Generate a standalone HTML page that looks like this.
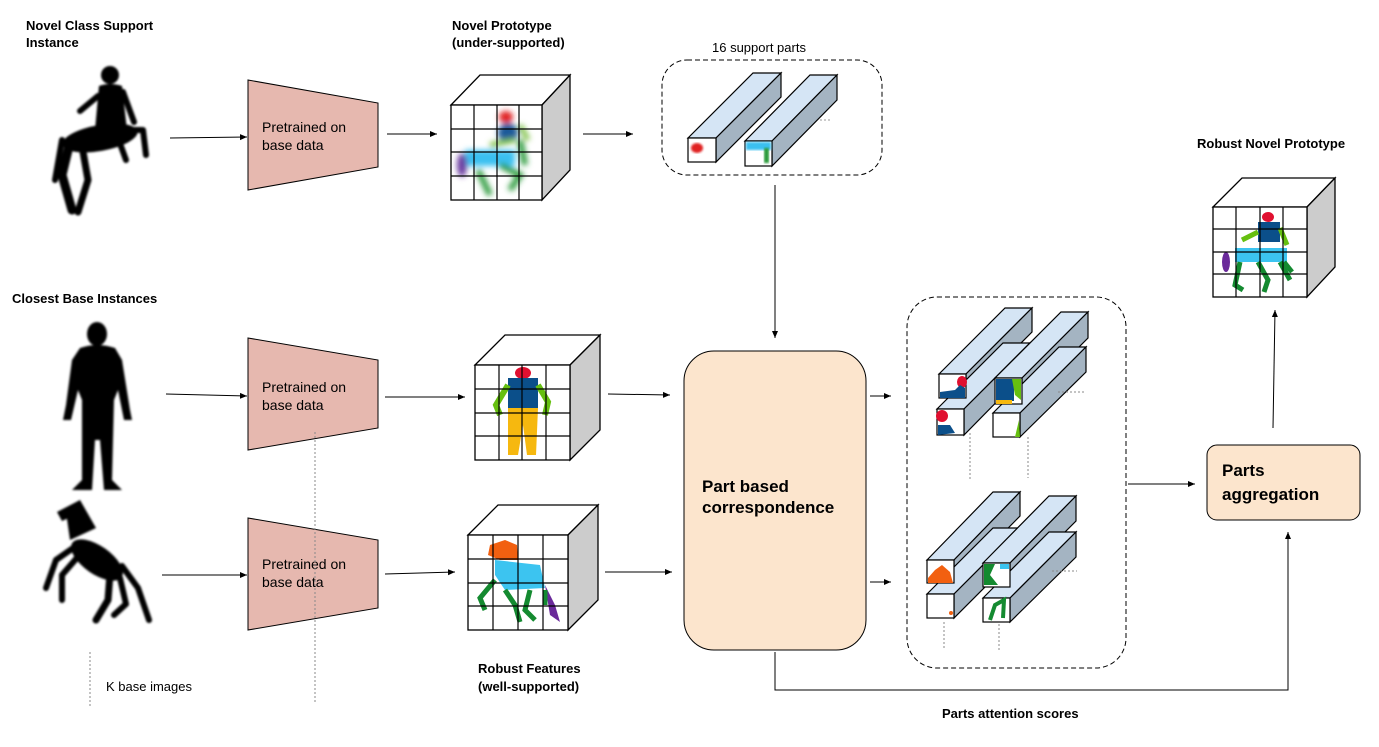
<!DOCTYPE html>
<html><head><meta charset="utf-8"><style>
html,body{margin:0;padding:0;background:#fff}
svg{display:block}
text{font-family:"Liberation Sans",Arial,sans-serif}
</style></head><body>
<svg width="1379" height="747" viewBox="0 0 1379 747" xmlns="http://www.w3.org/2000/svg">
<defs>
<marker id="ah" markerWidth="8" markerHeight="8" refX="7" refY="4" orient="auto" markerUnits="userSpaceOnUse">
<path d="M0,1 L7,4 L0,7 Z" fill="#000"/></marker>
<filter id="bl"><feGaussianBlur stdDeviation="3"/></filter>
<filter id="bl1"><feGaussianBlur stdDeviation="1"/></filter>
</defs>

<g font-weight="bold" font-size="13" fill="#000">
<text x="26" y="30">Novel Class Support</text>
<text x="26" y="47">Instance</text>
<text x="452" y="30">Novel Prototype</text>
<text x="452" y="47">(under-supported)</text>
<text x="12" y="303">Closest Base Instances</text>
<text x="1197" y="148">Robust Novel Prototype</text>
<text x="478" y="673">Robust  Features</text>
<text x="478" y="691">(well-supported)</text>
<text x="942" y="718">Parts attention scores</text>
</g>
<text x="712" y="52" font-size="13">16 support parts</text>
<text x="106" y="691" font-size="13">K base images</text>

<!-- silhouettes -->
<g fill="#000" stroke="#000" filter="url(#bl1)" stroke-linecap="round" stroke-linejoin="round">
<!-- centaur -->
<circle cx="110" cy="75" r="9" stroke="none"/>
<path d="M99,86 Q110,82 122,86 L127,130 L95,130 Z" stroke="none"/>
<path d="M98,96 L80,111" stroke-width="6" fill="none"/>
<path d="M123,92 L134,122" stroke-width="6" fill="none"/>
<ellipse cx="100" cy="138" rx="38" ry="13" transform="rotate(-10 100 138)" stroke="none"/>
<path d="M70,142 L62,175 L72,210" stroke-width="9" fill="none"/>
<path d="M82,146 L88,180 L78,212" stroke-width="7" fill="none"/>
<path d="M62,140 L55,180" stroke-width="6" fill="none"/>
<path d="M118,138 L126,160" stroke-width="6" fill="none"/>
<path d="M128,130 L143,130 L146,155" stroke-width="6" fill="none"/>
<!-- human -->
<ellipse cx="97" cy="334" rx="10" ry="12" stroke="none"/>
<path d="M80,348 Q97,342 115,348 L122,360 L130,410 L132,420 L124,420 L118,390 L114,400 L112,480 L122,490 L104,490 L100,440 L95,440 L92,490 L72,490 L82,480 L82,400 L78,390 L71,420 L63,420 L66,405 L72,360 Z" stroke="none"/>
<!-- horse -->
<ellipse cx="97" cy="560" rx="30" ry="14" transform="rotate(35 97 560)" stroke="none"/>
<path d="M70,540 L66,512 L80,500 L96,528 Z" stroke="none"/>
<path d="M57,512 L80,500 L84,511 L62,521 Z" stroke="none"/>
<path d="M76,546 L56,560 L46,588" stroke-width="6" fill="none"/>
<path d="M82,552 L62,575 L62,600" stroke-width="6" fill="none"/>
<path d="M110,574 L108,600 L96,620" stroke-width="7" fill="none"/>
<path d="M120,578 L126,604 L114,615" stroke-width="6" fill="none"/>
<path d="M122,566 L138,588 L149,620" stroke-width="6" fill="none"/>
</g>

<g fill="#e6b8af" stroke="#000" stroke-width="1">
<path d="M248,80 L378,103 L378,167 L248,190 Z"/>
<path d="M248,338 L378,360 L378,428 L248,450 Z"/>
<path d="M248,518 L378,540 L378,608 L248,630 Z"/>
</g>
<g font-size="14" fill="#000">
<text x="262" y="132">Pretrained on</text><text x="262" y="150">base data</text>
<text x="262" y="392">Pretrained on</text><text x="262" y="410">base data</text>
<text x="262" y="569">Pretrained on</text><text x="262" y="587">base data</text>
</g>

<g stroke="#000" stroke-width="1.3">
<path d="M451,105 L480,75 L570,75 L542,105 Z" fill="#fff"/>
<path d="M542,105 L570,75 L570,170 L542,200 Z" fill="#ccc"/>
<rect x="451" y="105" width="91" height="95" fill="#fff"/>
<path d="M475,365 L505,335 L600,335 L570,365 Z" fill="#fff"/>
<path d="M570,365 L600,335 L600,430 L570,460 Z" fill="#ccc"/>
<rect x="475" y="365" width="95" height="95" fill="#fff"/>
<path d="M468,535 L498,505 L598,505 L568,535 Z" fill="#fff"/>
<path d="M568,535 L598,505 L598,600 L568,630 Z" fill="#ccc"/>
<rect x="468" y="535" width="100" height="95" fill="#fff"/>
<path d="M1213,207 L1242,178 L1335,178 L1307,207 Z" fill="#fff"/>
<path d="M1307,207 L1335,178 L1335,267 L1307,297 Z" fill="#ccc"/>
<rect x="1213" y="207" width="94" height="90" fill="#fff"/>
</g>

<g filter="url(#bl)">
<ellipse cx="506" cy="117" rx="7" ry="6" fill="#e02020"/>
<ellipse cx="508" cy="133" rx="10" ry="10" fill="#1a5a9a"/>
<rect x="465" y="150" width="50" height="16" fill="#3ac0f0"/>
<ellipse cx="462" cy="165" rx="5" ry="12" fill="#6a3aa0"/>
<path d="M478,170 L490,195 M500,165 L520,175 L510,190 M520,140 L525,165" stroke="#2a9a3a" stroke-width="6" fill="none"/>
<path d="M490,145 L515,140 M520,125 L528,140" stroke="#7ac040" stroke-width="5" fill="none"/>
</g>
<g>
<ellipse cx="523" cy="373" rx="8" ry="6" fill="#e01030"/>
<rect x="508" y="378" width="30" height="30" fill="#0b4f8a"/>
<path d="M508,385 L496,405 L500,415 M538,385 L548,402 L545,415" stroke="#66c010" stroke-width="6" fill="none"/>
<path d="M508,408 L538,408 L536,455 L527,455 L523,425 L518,455 L508,455 Z" fill="#f6b80f"/>
</g>
<g>
<path d="M490,545 L505,540 L517,545 L518,560 L500,560 L488,555 Z" fill="#f26010"/>
<path d="M495,560 L540,565 L545,588 L505,590 L495,575 Z" fill="#3cc4f0"/>
<path d="M545,585 L555,605 L560,622 L550,615 Z" fill="#6a2a9a"/>
<path d="M495,580 L480,598 L485,610 M505,590 L515,605 L520,622 M530,590 L525,610 L535,620 M545,590 L545,605" stroke="#148a30" stroke-width="5" fill="none"/>
</g>
<g>
<ellipse cx="1268" cy="217" rx="6" ry="5" fill="#e01030"/>
<rect x="1258" y="222" width="22" height="20" fill="#0b4f8a"/>
<path d="M1258,232 L1242,240 M1280,228 L1287,245" stroke="#66c010" stroke-width="5" fill="none"/>
<rect x="1235" y="248" width="52" height="14" fill="#3cc4f0"/>
<ellipse cx="1226" cy="262" rx="4" ry="10" fill="#6a2a9a"/>
<path d="M1240,262 L1235,285 L1243,290 M1258,262 L1268,280 L1264,292 M1284,262 L1292,272 M1280,262 L1290,280" stroke="#148a30" stroke-width="5" fill="none"/>
</g>

<g stroke="#000" stroke-width="1.2" fill="none">
<path d="M451,129 H542 M451,152 H542 M451,176 H542 M474,105 V200 M497,105 V200 M519,105 V200"/>
<path d="M475,389 H570 M475,413 H570 M475,436 H570 M499,365 V460 M522,365 V460 M546,365 V460"/>
<path d="M468,559 H568 M468,583 H568 M468,606 H568 M493,535 V630 M518,535 V630 M543,535 V630"/>
<path d="M1213,229 H1307 M1213,252 H1307 M1213,274 H1307 M1236,207 V297 M1260,207 V297 M1283,207 V297"/>
</g>

<g fill="none" stroke="#000" stroke-dasharray="5,3" stroke-width="1">
<rect x="662" y="60" width="220" height="115" rx="25"/>
<rect x="907" y="297" width="219" height="371" rx="30"/>
</g>

<g stroke="#000" stroke-width="1.2">
<path d="M688,138 L753,73 L781,73 L716,138 Z" fill="#d5e5f5"/>
<path d="M716,138 L781,73 L781,97 L716,162 Z" fill="#a4b4c2"/>
<rect x="688" y="138" width="28" height="24" fill="#fff"/>
<path d="M745,141 L810,75 L837,75 L772,141 Z" fill="#d5e5f5"/>
<path d="M772,141 L837,75 L837,100 L772,166 Z" fill="#a4b4c2"/>
<rect x="745" y="141" width="27" height="25" fill="#fff"/>
</g>
<ellipse cx="697" cy="148" rx="6" ry="5" fill="#e02020" filter="url(#bl1)"/>
<rect x="746" y="142" width="25" height="8" fill="#3ac0f0" filter="url(#bl1)"/>
<rect x="764" y="148" width="5" height="15" fill="#2a9a3a" filter="url(#bl1)"/>
<path d="M820,120 H830" stroke="#999" stroke-dasharray="2,2"/>

<g stroke="#000" stroke-width="1.2">
<path d="M939,374 L1005,308 L1032,308 L966,374 Z" fill="#d5e5f5"/>
<path d="M966,374 L1032,308 L1032,332 L966,398 Z" fill="#a4b4c2"/>
<path d="M937,409 L1003,343 L1030,343 L964,409 Z" fill="#d5e5f5"/>
<path d="M964,409 L1030,343 L1030,368 L964,435 Z" fill="#a4b4c2"/>
<rect x="939" y="374" width="27" height="24" fill="#fff"/>
<rect x="937" y="409" width="27" height="26" fill="#fff"/>
<path d="M995,378 L1061,312 L1088,312 L1022,378 Z" fill="#d5e5f5"/>
<path d="M1022,378 L1088,312 L1088,338 L1022,404 Z" fill="#a4b4c2"/>
<path d="M993,413 L1059,347 L1086,347 L1020,413 Z" fill="#d5e5f5"/>
<path d="M1020,413 L1086,347 L1086,372 L1020,437 Z" fill="#a4b4c2"/>
<rect x="995" y="378" width="27" height="26" fill="#fff"/>
<rect x="993" y="413" width="27" height="24" fill="#fff"/>
<path d="M927,560 L993,492 L1020,492 L954,560 Z" fill="#d5e5f5"/>
<path d="M954,560 L1020,492 L1020,516 L954,583 Z" fill="#a4b4c2"/>
<path d="M927,594 L993,528 L1020,528 L954,594 Z" fill="#d5e5f5"/>
<path d="M954,594 L1020,528 L1020,552 L954,618 Z" fill="#a4b4c2"/>
<rect x="927" y="560" width="27" height="23" fill="#fff"/>
<rect x="927" y="594" width="27" height="24" fill="#fff"/>
<path d="M983,563 L1049,496 L1076,496 L1010,563 Z" fill="#d5e5f5"/>
<path d="M1010,563 L1076,496 L1076,521 L1010,587 Z" fill="#a4b4c2"/>
<path d="M983,598 L1049,532 L1076,532 L1010,598 Z" fill="#d5e5f5"/>
<path d="M1010,598 L1076,532 L1076,557 L1010,622 Z" fill="#a4b4c2"/>
<rect x="983" y="563" width="27" height="24" fill="#fff"/>
<rect x="983" y="598" width="27" height="24" fill="#fff"/>
</g>
<ellipse cx="962" cy="382" rx="5" ry="6" fill="#e01030"/>
<path d="M940,392 L955,390 L960,385 L965,388 L965,398 L940,398 Z" fill="#0b4f8a"/>
<ellipse cx="942" cy="416" rx="6" ry="6" fill="#e01030"/>
<path d="M938,425 L950,425 L955,433 L938,435 Z" fill="#0b4f8a"/>
<rect x="996" y="379" width="18" height="22" fill="#0b4f8a"/>
<path d="M1012,379 L1021,379 L1021,400 L1015,395 Z" fill="#66c010"/>
<rect x="996" y="400" width="16" height="4" fill="#f6b80f"/>
<path d="M1015,437 L1019,420 L1020,437 Z" fill="#66c010"/>
<path d="M928,578 L935,570 L942,565 L950,572 L953,583 L928,583 Z" fill="#f26010"/>
<circle cx="951" cy="613" r="2" fill="#f26010"/>
<path d="M984,564 L995,564 L990,575 L998,585 L984,585 Z" fill="#148a30"/>
<rect x="1000" y="564" width="9" height="5" fill="#3cc4f0"/>
<path d="M990,620 L995,605 L1004,600 L1003,618" stroke="#148a30" stroke-width="4" fill="none"/>

<g stroke="#888" stroke-dasharray="2,2" fill="none" stroke-width="1">
<path d="M970,433 V480 M1028,437 V478 M944,622 V648 M999,624 V650"/>
<path d="M1058,392 H1084 M1052,571 H1077"/>
<path d="M315,432 V702 M90,652 V706"/>
</g>

<rect x="684" y="351" width="182" height="299" rx="30" fill="#fce5cd" stroke="#000" stroke-width="1"/>
<text x="702" y="492" font-size="17" font-weight="bold">Part based</text>
<text x="702" y="513" font-size="17" font-weight="bold">correspondence</text>
<rect x="1207" y="445" width="153" height="75" rx="10" fill="#fce5cd" stroke="#000" stroke-width="1"/>
<text x="1222" y="476" font-size="17" font-weight="bold">Parts</text>
<text x="1222" y="500" font-size="17" font-weight="bold">aggregation</text>

<g stroke="#000" stroke-width="1" fill="none" marker-end="url(#ah)">
<path d="M170,138 L247,137"/>
<path d="M387,134 L437,134"/>
<path d="M583,134 L633,134"/>
<path d="M775,185 L775,338"/>
<path d="M166,394 L247,396"/>
<path d="M385,397 L465,397"/>
<path d="M608,394 L670,395"/>
<path d="M162,575 L247,575"/>
<path d="M385,574 L455,572"/>
<path d="M605,572 L672,572"/>
<path d="M870,396 L891,396"/>
<path d="M870,582 L891,582"/>
<path d="M1128,484 L1195,484"/>
<path d="M1273,428 L1275,310"/>
<path d="M775,652 L775,690 L1288,690 L1288,532"/>
</g>
</svg>
</body></html>
